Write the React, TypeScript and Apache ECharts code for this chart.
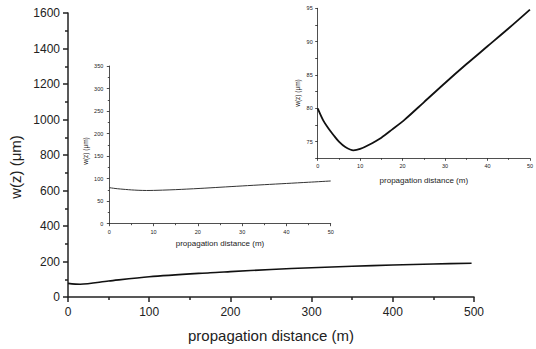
import React, { useEffect, useRef } from "react";
import * as echarts from "echarts";

const mainX = [0, 15, 50, 100, 175, 200, 250, 300, 350, 400, 450, 497];
const mainY = [77, 72, 90, 114, 137, 143, 155, 165, 173, 180, 186, 190];

const insetX = [0, 1.3, 2.5, 3.7, 5, 6.5, 8.4, 10, 12, 15, 17.5, 20.5, 25, 30, 35, 40, 45, 50];
const insetY = [80, 78.2, 77, 76, 75, 74.2, 73.7, 73.9, 74.5, 75.6, 76.8, 78.3, 80.9, 83.8, 86.6, 89.3, 92.0, 94.8];

const xTitle = "propagation distance (m)";
const yTitle = "w(z) (μm)";

const FONT = "'Liberation Sans', Arial, sans-serif";
const INK = "#222";

function pairs(xs: number[], ys: number[]) {
  return xs.map((x, i) => [x, ys[i]]);
}

function axisCommon(fontSize: number, margin: number, tickLen: number, minorLen: number, lineW: number) {
  return {
    axisLine: { show: true, lineStyle: { color: INK, width: lineW } },
    axisTick: { show: true, length: tickLen, lineStyle: { color: INK, width: lineW } },
    minorTick: { show: true, splitNumber: 2, length: minorLen, lineStyle: { color: INK, width: lineW } },
    splitLine: { show: false },
    axisLabel: { color: INK, fontSize, fontFamily: FONT, margin, formatter: (v: number) => String(v) },
  };
}

export default function App() {
  const ref = useRef<HTMLDivElement>(null);
  useEffect(() => {
    if (!ref.current) return;
    const chart = echarts.init(ref.current, undefined, { renderer: "svg" });
    const option: any = {
      animation: false,
      backgroundColor: "#fff",
      grid: [
        { left: 68, top: 13, right: 62, bottom: 52 },
        { left: 109.3, top: 66, right: 205.3, bottom: 125.3 },
        { left: 317.7, top: 8.3, right: 5.3, bottom: 190.7 },
      ],
      xAxis: [
        {
          gridIndex: 0, type: "value", min: 0, max: 500, interval: 100,
          ...axisCommon(12, 9, 5, 3, 1.5),
          name: xTitle, nameLocation: "middle", nameGap: 31,
          nameTextStyle: { color: INK, fontSize: 15, fontFamily: FONT },
        },
        {
          gridIndex: 1, type: "value", min: 0, max: 50, interval: 10,
          ...axisCommon(5.5, 5, 2.5, 1.5, 0.8),
          name: xTitle, nameLocation: "middle", nameGap: 16,
          nameTextStyle: { color: INK, fontSize: 8, fontFamily: FONT },
        },
        {
          gridIndex: 2, type: "value", min: 0, max: 50, interval: 10,
          ...axisCommon(5.5, 5, 2.5, 1.5, 0.8),
          name: xTitle, nameLocation: "middle", nameGap: 18,
          nameTextStyle: { color: INK, fontSize: 8, fontFamily: FONT },
        },
      ],
      yAxis: [
        {
          gridIndex: 0, type: "value", min: 0, max: 1600, interval: 200,
          ...axisCommon(12, 8, 5, 3, 1.5),
        },
        {
          gridIndex: 1, type: "value", min: 0, max: 350, interval: 50,
          ...axisCommon(5.5, 6, 2.5, 1.5, 0.8),
        },
        {
          gridIndex: 2, type: "value", min: 72.5, max: 95, interval: 2.5,
          ...axisCommon(5.5, 5, 2.5, 1.5, 0.8),
          minorTick: { show: false },
          axisLabel: {
            color: INK, fontSize: 5.5, fontFamily: FONT, margin: 5,
            formatter: (v: number) => (Math.abs(v % 5) < 1e-6 && v > 73 ? String(v) : ""),
          },
        },
      ],
      graphic: [
        {
          type: "text", x: 15, y: 167, rotation: Math.PI / 2,
          style: { text: yTitle, fontSize: 15, fontFamily: FONT, fill: INK, align: "center", verticalAlign: "middle" },
        },
        {
          type: "text", x: 85, y: 151, rotation: Math.PI / 2,
          style: { text: yTitle, fontSize: 6.5, fontFamily: FONT, fill: INK, align: "center", verticalAlign: "middle" },
        },
        {
          type: "text", x: 297, y: 93, rotation: Math.PI / 2,
          style: { text: yTitle, fontSize: 6.5, fontFamily: FONT, fill: INK, align: "center", verticalAlign: "middle" },
        },
      ],
      series: [
        {
          type: "line", xAxisIndex: 0, yAxisIndex: 0, data: pairs(mainX, mainY),
          smooth: 0.3, showSymbol: false, lineStyle: { color: "#111", width: 1.6 },
        },
        {
          type: "line", xAxisIndex: 1, yAxisIndex: 1, data: pairs(insetX, insetY),
          smooth: 0.3, showSymbol: false, lineStyle: { color: "#333", width: 1 },
        },
        {
          type: "line", xAxisIndex: 2, yAxisIndex: 2, data: pairs(insetX, insetY),
          smooth: 0.3, showSymbol: false, lineStyle: { color: "#111", width: 1.8 },
        },
      ],
    };
    chart.setOption(option);
    return () => chart.dispose();
  }, []);
  return (
    <div
      ref={ref}
      style={{ position: "fixed", left: 0, top: 0, width: 536, height: 349, background: "#fff" }}
    />
  );
}
